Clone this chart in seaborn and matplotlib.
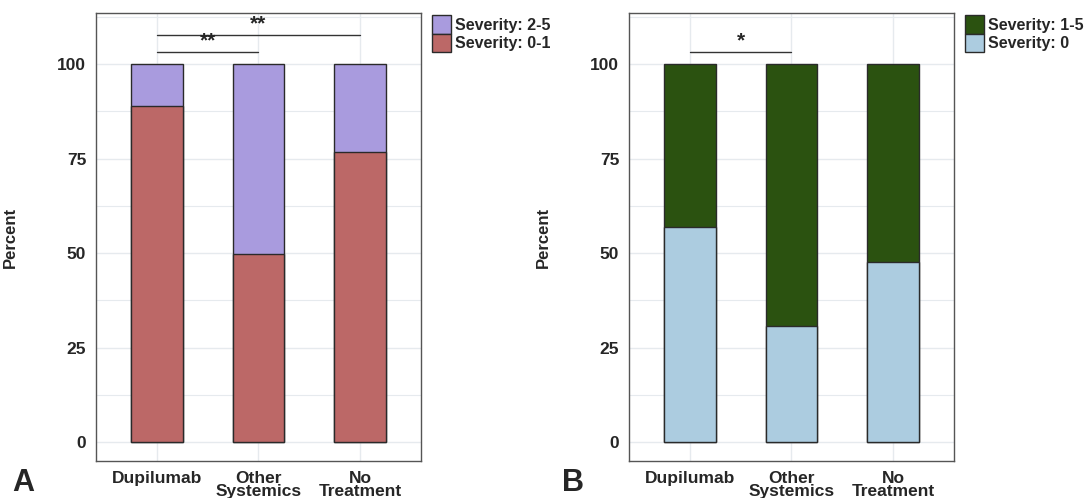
import matplotlib
matplotlib.use("Agg")
import matplotlib.pyplot as plt
import seaborn as sns
import pandas as pd
from matplotlib.patches import Patch
from matplotlib.ticker import MultipleLocator

# data (percent per group)
groups = ["Dupilumab", "Other\nSystemics", "No\nTreatment"]
a_low = [89.0, 49.7, 76.7]    # Severity: 0-1
a_high = [11.0, 50.3, 23.3]   # Severity: 2-5
b_low = [56.9, 30.7, 47.6]    # Severity: 0
b_high = [43.1, 69.3, 52.4]   # Severity: 1-5

# significance brackets: (from group, to group, height, label)
a_sig = [(0, 1, 103.3, "**"), (0, 2, 107.8, "**")]
b_sig = [(0, 1, 103.3, "*")]

sns.set_style("white")
plt.rcParams["font.family"] = ["Liberation Sans", "DejaVu Sans"]
plt.rcParams["font.weight"] = "bold"

EDGE = "#2a2a2a"
GRID = "#e6eaee"


def draw_panel(ax, low, high, low_lab, high_lab, low_col, high_col, sig):
    df = pd.DataFrame({"group": groups,
                       "total": [l + h for l, h in zip(low, high)],
                       "low": low})
    # top segment drawn as full bar, bottom segment on top of it
    sns.barplot(data=df, x="group", y="total", color=high_col, saturation=1,
                edgecolor=EDGE, linewidth=1, width=0.51, ax=ax)
    sns.barplot(data=df, x="group", y="low", color=low_col, saturation=1,
                edgecolor=EDGE, linewidth=1, width=0.51, ax=ax)

    ax.set_xlim(-0.6, 2.6)
    ax.set_ylim(-5, 113.5)
    ax.set_yticks([0, 25, 50, 75, 100])
    ax.yaxis.set_minor_locator(MultipleLocator(12.5))
    ax.set_axisbelow(True)
    ax.grid(which="major", color=GRID, lw=1)
    ax.grid(which="minor", axis="y", color=GRID, lw=0.8)

    for s in ax.spines.values():
        s.set_color("#555555")
        s.set_linewidth(1)
    ax.tick_params(which="major", length=4, width=1, color="#555555",
                   labelsize=12.5, pad=3)
    ax.tick_params(which="minor", length=0)
    ax.set_xticks(range(len(groups)))
    ax.set_xticklabels(groups, fontweight="bold", linespacing=0.85)
    for t in ax.get_yticklabels():
        t.set_fontweight("bold")

    ax.set_xlabel("")
    ax.set_ylabel("Percent", fontsize=12, fontweight="bold")
    ax.yaxis.set_label_coords(-0.24, 0.5)

    for i, j, y, lab in sig:
        ax.plot([i, j], [y, y], color="#333333", lw=1)
        ax.text((i + j) / 2, y + 0.2, lab, ha="center", va="bottom",
                fontsize=15, fontweight="bold")

    handles = [Patch(facecolor=high_col, edgecolor=EDGE, lw=1),
               Patch(facecolor=low_col, edgecolor=EDGE, lw=1)]
    ax.legend(handles, [high_lab, low_lab], loc="upper left",
              bbox_to_anchor=(1.035, 0.995), frameon=False,
              prop={"weight": "bold", "size": 11.5},
              handlelength=1.15, handleheight=1.4, labelspacing=0.0,
              handletextpad=0.25, borderpad=0.0, borderaxespad=0.0)


fig = plt.figure(figsize=(10.92, 4.98), dpi=100)
ax1 = fig.add_axes([0.0879, 0.0743, 0.2976, 0.8996])
ax2 = fig.add_axes([0.5760, 0.0743, 0.2976, 0.8996])

draw_panel(ax1, a_low, a_high, "Severity: 0-1", "Severity: 2-5",
           "#bc6867", "#a99bde", a_sig)
draw_panel(ax2, b_low, b_high, "Severity: 0", "Severity: 1-5",
           "#accce0", "#2b5210", b_sig)

fig.text(0.011, 0.014, "A", fontsize=22, fontweight="bold")
fig.text(0.515, 0.014, "B", fontsize=22, fontweight="bold")

fig.savefig("out.png", dpi=100)
